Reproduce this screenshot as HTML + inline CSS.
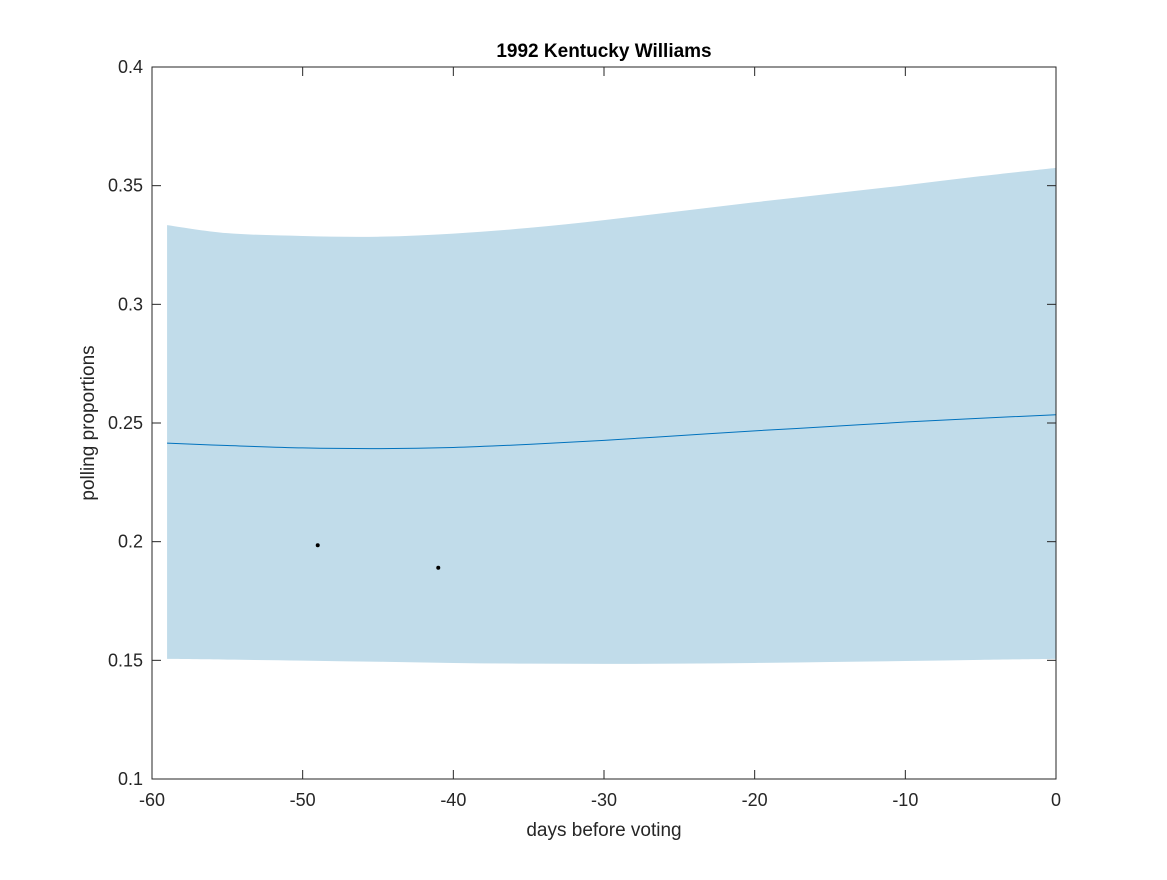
<!DOCTYPE html>
<html><head><meta charset="utf-8"><style>
body{margin:0;background:#fff;}
svg text{font-family:"Liberation Sans",sans-serif;}
</style></head><body>
<svg id="chart" width="1167" height="875">
<rect width="1167" height="875" fill="#fff"/>
<g id="plot"></g>
</svg>
<script>
const days=[-59,-55,-50,-45,-40,-35,-30,-25,-20,-15,-10,-5,0];
const upper=[0.3334,0.3300,0.3288,0.3285,0.3298,0.3322,0.3355,0.3392,0.3430,0.3466,0.3502,0.3540,0.3575];
const lower=[0.1506,0.1503,0.1499,0.1494,0.1489,0.1486,0.1485,0.1486,0.1489,0.1493,0.1497,0.1502,0.1506];
const mean=[0.2415,0.2405,0.2395,0.2392,0.2397,0.2410,0.2427,0.2447,0.2467,0.2485,0.2504,0.2520,0.2535];
const pollDays=[-49,-41];
const pollVals=[0.1985,0.189];
const xTicks=[-60,-50,-40,-30,-20,-10,0];
const yTicks=[0.1,0.15,0.2,0.25,0.3,0.35,0.4];
const L=152,R=1056,T=67,B=779;
const sx=d=>L+(d+60)/60*(R-L);
const sy=v=>B-(v-0.1)/0.3*(B-T);
const g=document.getElementById('plot');
const NS='http://www.w3.org/2000/svg';
function mk(t,a){const e=document.createElementNS(NS,t);for(const k in a)e.setAttribute(k,a[k]);g.appendChild(e);return e;}
function smooth(xs,ys){let p='';for(let i=0;i<xs.length;i++){const x=sx(xs[i]),y=sy(ys[i]);
if(i===0){p+='M'+x+','+y;continue;}
const x0=sx(xs[i-1]),y0=sy(ys[i-1]);
const xm=sx(xs[Math.max(i-2,0)]),ym=sy(ys[Math.max(i-2,0)]);
const xp=sx(xs[Math.min(i+1,xs.length-1)]),yp=sy(ys[Math.min(i+1,xs.length-1)]);
p+='C'+(x0+(x-xm)/6)+','+(y0+(y-ym)/6)+' '+(x-(xp-x0)/6)+','+(y-(yp-y0)/6)+' '+x+','+y;}
return p;}
let d=smooth(days,upper);
d+='L'+sx(days[days.length-1])+','+sy(lower[lower.length-1]);
const rd=days.slice().reverse(),rl=lower.slice().reverse();
d+=smooth(rd,rl).replace(/^M[^C]*/,'');
const band=mk('path',{d:d+'Z',fill:'#c1dcea'});


const ln=mk('path',{d:smooth(days,mean),fill:'none',stroke:'#0072bd','stroke-width':1});


pollDays.forEach((x,i)=>{const c=mk('circle',{cx:sx(x),cy:sy(pollVals[i]),r:2,fill:'#000'});

});
const box=mk('rect',{x:L,y:T,width:R-L,height:B-T,fill:'none',stroke:'#262626','stroke-width':1});


xTicks.forEach(v=>{const x=sx(v);
mk('line',{x1:x,x2:x,y1:B,y2:B-9,stroke:'#262626'});mk('line',{x1:x,x2:x,y1:T,y2:T+9,stroke:'#262626'});
const t=mk('text',{x:x,y:B+27,'text-anchor':'middle','font-size':18,fill:'#262626'});t.textContent=v;

});
yTicks.forEach(v=>{const y=sy(v);
mk('line',{x1:L,x2:L+9,y1:y,y2:y,stroke:'#262626'});mk('line',{x1:R,x2:R-9,y1:y,y2:y,stroke:'#262626'});
const t=mk('text',{x:L-9,y:y+6,'text-anchor':'end','font-size':18,fill:'#262626'});t.textContent=+v.toFixed(2);

});
const ti=mk('text',{x:(L+R)/2,y:57,'text-anchor':'middle','font-size':19,'font-weight':'bold',fill:'#000'});ti.textContent='1992 Kentucky Williams';


const xl=mk('text',{x:(L+R)/2,y:836,'text-anchor':'middle','font-size':19,fill:'#262626'});xl.textContent='days before voting';


const yl=mk('text',{x:0,y:0,transform:'translate(94,423) rotate(-90)','text-anchor':'middle','font-size':19,fill:'#262626'});yl.textContent='polling proportions';


</script>
</body></html>
